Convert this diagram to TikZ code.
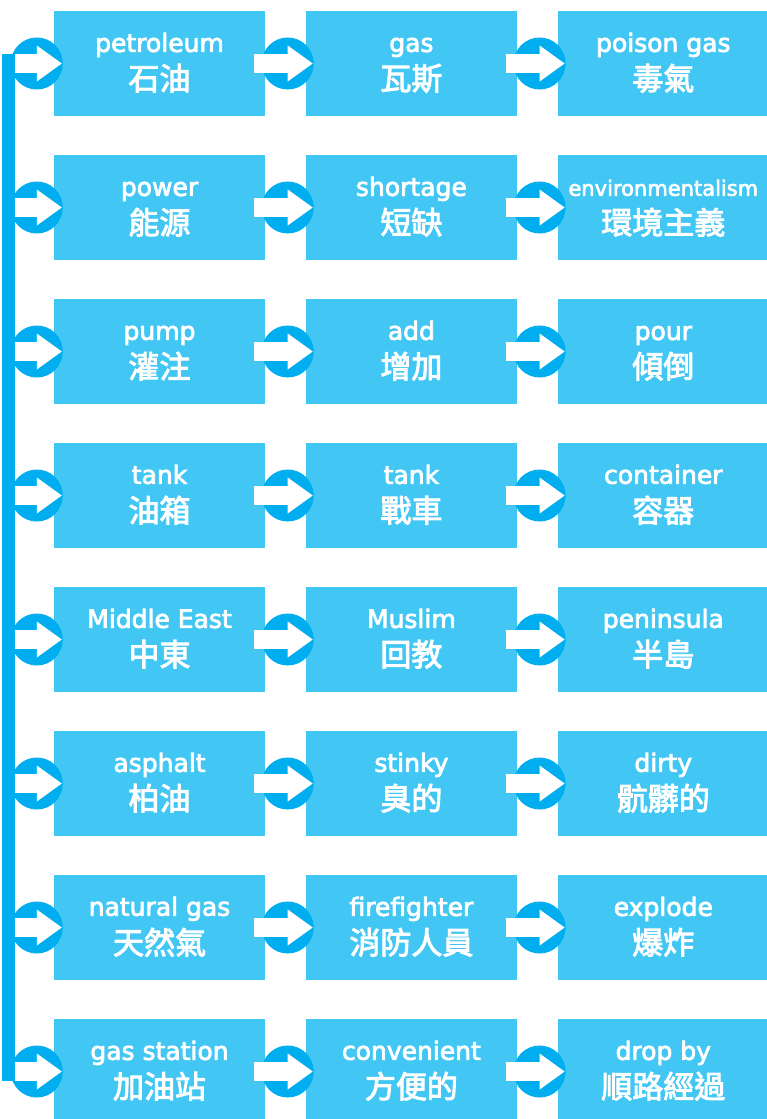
\documentclass[tikz,border=0pt]{standalone}
\usepackage{fontspec}
\usetikzlibrary{arrows.meta, positioning}
\setmainfont{DejaVu Sans}[FakeBold=3]
\newfontfamily\zhfam{Noto Sans CJK TC}[FakeBold=3]
\definecolor{boxblue}{RGB}{66,199,244}
\definecolor{hubblue}{RGB}{0,174,239}
\newcommand{\zh}{\zhfam\fontsize{31}{37}\selectfont\strut}

\begin{document}
\begin{tikzpicture}[
  x=1pt, y=1pt,
  node distance=38.6pt and 40.5pt,
  wordbox/.style={rectangle, fill=boxblue, minimum width=211pt,
                  minimum height=105pt, inner sep=0pt, align=center,
                  text=white, font=\fontsize{25}{37}\selectfont},
  hub/.style={circle, fill=hubblue, minimum size=52pt, inner sep=0pt},
  flow/.style={white, line width=19pt,
               -{Triangle[length=25pt, width=36pt, line width=0pt]}},
  spine/.style={hubblue, line width=13pt}
]
\useasboundingbox (0,0) rectangle (766,-1119);

% Row 1
\node[wordbox] (petroleum) at (159.5,-63.5) {\strut petroleum\\\zh 石油};
\node[wordbox, right=of petroleum] (gas) {\strut gas\\\zh 瓦斯};
\node[wordbox, right=of gas] (poison) {\strut poison gas\\\zh 毒氣};

% Row 2
\node[wordbox, below=of petroleum] (power) {\strut power\\\zh 能源};
\node[wordbox, right=of power] (shortage) {\strut shortage\\\zh 短缺};
\node[wordbox, right=of shortage] (environ)
  {\strut{\fontsize{21}{37}\selectfont environmentalism}\\\zh 環境主義};

% Row 3
\node[wordbox, below=of power] (pump) {\strut pump\\\zh 灌注};
\node[wordbox, right=of pump] (add) {\strut add\\\zh 增加};
\node[wordbox, right=of add] (pour) {\strut pour\\\zh 傾倒};

% Row 4
\node[wordbox, below=of pump] (oiltank) {\strut tank\\\zh 油箱};
\node[wordbox, right=of oiltank] (wartank) {\strut tank\\\zh 戰車};
\node[wordbox, right=of wartank] (container) {\strut container\\\zh 容器};

% Row 5
\node[wordbox, below=of oiltank] (mideast) {\strut Middle East\\\zh 中東};
\node[wordbox, right=of mideast] (muslim) {\strut Muslim\\\zh 回教};
\node[wordbox, right=of muslim] (peninsula) {\strut peninsula\\\zh 半島};

% Row 6
\node[wordbox, below=of mideast] (asphalt) {\strut asphalt\\\zh 柏油};
\node[wordbox, right=of asphalt] (stinky) {\strut stinky\\\zh 臭的};
\node[wordbox, right=of stinky] (dirty) {\strut dirty\\\zh 骯髒的};

% Row 7
\node[wordbox, below=of asphalt] (natgas) {\strut natural gas\\\zh 天然氣};
\node[wordbox, right=of natgas] (firefighter) {\strut firefighter\\\zh 消防人員};
\node[wordbox, right=of firefighter] (explode) {\strut explode\\\zh 爆炸};

% Row 8
\node[wordbox, below=of natgas] (station) {\strut gas station\\\zh 加油站};
\node[wordbox, right=of station] (convenient) {\strut convenient\\\zh 方便的};
\node[wordbox, right=of convenient] (dropby) {\strut drop by\\\zh 順路經過};

% Left spine
\draw[spine] ([xshift=-45.5pt, yshift=9.5pt]petroleum.west)
  -- ([xshift=-45.5pt, yshift=-9.5pt]station.west);

% Arrows into the first column
\draw[flow] ([xshift=-39pt]petroleum.west) -- node[hub, at end, xshift=-25pt, behind path]{} ([xshift=8pt]petroleum.west);
\draw[flow] ([xshift=-39pt]power.west) -- node[hub, at end, xshift=-25pt, behind path]{} ([xshift=8pt]power.west);
\draw[flow] ([xshift=-39pt]pump.west) -- node[hub, at end, xshift=-25pt, behind path]{} ([xshift=8pt]pump.west);
\draw[flow] ([xshift=-39pt]oiltank.west) -- node[hub, at end, xshift=-25pt, behind path]{} ([xshift=8pt]oiltank.west);
\draw[flow] ([xshift=-39pt]mideast.west) -- node[hub, at end, xshift=-25pt, behind path]{} ([xshift=8pt]mideast.west);
\draw[flow] ([xshift=-39pt]asphalt.west) -- node[hub, at end, xshift=-25pt, behind path]{} ([xshift=8pt]asphalt.west);
\draw[flow] ([xshift=-39pt]natgas.west) -- node[hub, at end, xshift=-25pt, behind path]{} ([xshift=8pt]natgas.west);
\draw[flow] ([xshift=-39pt]station.west) -- node[hub, at end, xshift=-25pt, behind path]{} ([xshift=8pt]station.west);

% Arrows between columns
\draw[flow] ([xshift=-11pt]petroleum.east) -- node[hub, at end, xshift=-25pt, behind path]{} ([xshift=7pt]gas.west);
\draw[flow] ([xshift=-11pt]gas.east) -- node[hub, at end, xshift=-25pt, behind path]{} ([xshift=7pt]poison.west);
\draw[flow] ([xshift=-11pt]power.east) -- node[hub, at end, xshift=-25pt, behind path]{} ([xshift=7pt]shortage.west);
\draw[flow] ([xshift=-11pt]shortage.east) -- node[hub, at end, xshift=-25pt, behind path]{} ([xshift=7pt]environ.west);
\draw[flow] ([xshift=-11pt]pump.east) -- node[hub, at end, xshift=-25pt, behind path]{} ([xshift=7pt]add.west);
\draw[flow] ([xshift=-11pt]add.east) -- node[hub, at end, xshift=-25pt, behind path]{} ([xshift=7pt]pour.west);
\draw[flow] ([xshift=-11pt]oiltank.east) -- node[hub, at end, xshift=-25pt, behind path]{} ([xshift=7pt]wartank.west);
\draw[flow] ([xshift=-11pt]wartank.east) -- node[hub, at end, xshift=-25pt, behind path]{} ([xshift=7pt]container.west);
\draw[flow] ([xshift=-11pt]mideast.east) -- node[hub, at end, xshift=-25pt, behind path]{} ([xshift=7pt]muslim.west);
\draw[flow] ([xshift=-11pt]muslim.east) -- node[hub, at end, xshift=-25pt, behind path]{} ([xshift=7pt]peninsula.west);
\draw[flow] ([xshift=-11pt]asphalt.east) -- node[hub, at end, xshift=-25pt, behind path]{} ([xshift=7pt]stinky.west);
\draw[flow] ([xshift=-11pt]stinky.east) -- node[hub, at end, xshift=-25pt, behind path]{} ([xshift=7pt]dirty.west);
\draw[flow] ([xshift=-11pt]natgas.east) -- node[hub, at end, xshift=-25pt, behind path]{} ([xshift=7pt]firefighter.west);
\draw[flow] ([xshift=-11pt]firefighter.east) -- node[hub, at end, xshift=-25pt, behind path]{} ([xshift=7pt]explode.west);
\draw[flow] ([xshift=-11pt]station.east) -- node[hub, at end, xshift=-25pt, behind path]{} ([xshift=7pt]convenient.west);
\draw[flow] ([xshift=-11pt]convenient.east) -- node[hub, at end, xshift=-25pt, behind path]{} ([xshift=7pt]dropby.west);

\end{tikzpicture}
\end{document}
